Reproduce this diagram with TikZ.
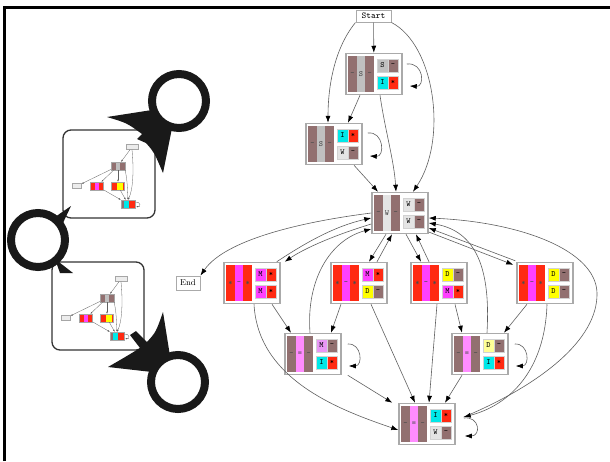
\documentclass[tikz,border=0pt]{standalone}
\usepackage{tikz}
\usetikzlibrary{arrows.meta}

\definecolor{hbrown}{RGB}{146,112,112}
\definecolor{hgrey}{RGB}{192,192,192}
\definecolor{hwhite}{RGB}{228,228,228}
\definecolor{hred}{RGB}{255,42,18}
\definecolor{hmag}{RGB}{255,64,255}
\definecolor{hpink}{RGB}{255,140,255}
\definecolor{hyel}{RGB}{255,255,0}
\definecolor{hlyel}{RGB}{255,255,150}
\definecolor{hcyan}{RGB}{0,232,232}
\definecolor{hlmag}{RGB}{232,150,245}
\definecolor{hedge}{RGB}{95,95,95}
\definecolor{hframe}{RGB}{170,170,170}

\tikzset{
  statebox/.style={draw=hframe, line width=1.5pt, fill=white, minimum width=56pt, minimum height=41pt, inner sep=0pt},
  cellbox/.style={draw=gray!35, line width=0.4pt, minimum width=11pt, minimum height=13pt, inner sep=0pt, font=\fontsize{8}{8}\selectfont\ttfamily},
  stripetext/.style={inner sep=0pt, font=\fontsize{8}{8}\selectfont\ttfamily\bfseries, text=black!70},
  labelbox/.style={draw=hframe, line width=1pt, fill=white, inner sep=1pt},
  edge/.style={draw=hedge, line width=0.6pt, -{Latex[length=7pt,width=5pt,fill=black,color=black]}},
  tbox/.style={draw=gray!70, line width=0.4pt, inner sep=0pt},
  tedge/.style={draw=hedge, line width=0.3pt, -{Latex[length=2pt,width=1.6pt]}},
  pointer/.style={fill=black!90},
  ring/.style={draw=black!90, line width=8pt}
}

% one cell: y, letter, letter colour, right colour, right mark
\newcommand{\hcell}[5]{%
  \node[cellbox, fill=#3] at (8.5,#1) {#2};
  \node[cellbox, minimum width=10pt, fill=#4] at (19,#1) {#5};}
\newcommand{\celS}[1]{\hcell{#1}{S}{hgrey}{hbrown}{-}}
\newcommand{\celW}[1]{\hcell{#1}{W}{hwhite}{hbrown}{-}}
\newcommand{\celI}[1]{\hcell{#1}{I}{hcyan}{hred}{*}}
\newcommand{\celM}[1]{\hcell{#1}{M}{hmag}{hred}{*}}
\newcommand{\celD}[1]{\hcell{#1}{D}{hyel}{hbrown}{-}}
\newcommand{\celLM}[1]{\hcell{#1}{M}{hlmag}{hbrown}{-}}
\newcommand{\celLD}[1]{\hcell{#1}{D}{hlyel}{hbrown}{-}}

% name, position, outer stripe colour, outer mark, middle colour, middle mark, top cell, bottom cell
\newcommand{\hmmstate}[8]{%
  \node[statebox] (#1) at #2 {};
  \begin{scope}[shift={(#1.center)}]
    \fill[#3] (-26,-18) rectangle (-17.3,18);
    \fill[#5] (-17.3,-18) rectangle (-8.7,18);
    \fill[#3] (-8.7,-18) rectangle (0,18);
    \node[stripetext] at (-21.6,0) {#4};
    \node[stripetext] at (-13,0) {#6};
    \node[stripetext] at (-4.3,0) {#4};
    #7{-8.5}
    #8{8.5}
  \end{scope}}

\begin{document}
\begin{tikzpicture}[x=1pt,y=-1pt]
\useasboundingbox (0,0) rectangle (610,461);
% frame
\draw[line width=3pt] (4.5,461) -- (4.5,7) -- (610,7);

% small copies of the graph
\foreach \px/\py/\k in {63/130/a,52/262/b}{
  \begin{scope}[shift={(\px,\py)}]
    \draw[line width=1.3pt, rounded corners=8pt, draw=black!80] (0,0) rectangle (92,88);
    \node[tbox, fill=gray!15, minimum width=12pt, minimum height=5pt] (ts\k) at (69,17) {};
    \node[tbox, fill=hbrown, minimum width=14pt, minimum height=8pt] (tt\k) at (55,36) {};
    \fill[hgrey] (53,32.5) rectangle (57,39.5);
    \node[tbox, fill=gray!15, minimum width=9pt, minimum height=5pt] (te\k) at (14,56) {};
    \node[tbox, fill=hred, minimum width=13pt, minimum height=8pt] (tm\k) at (34,56) {};
    \fill[hmag] (32,52.5) rectangle (36,59.5);
    \node[tbox, fill=hred, minimum width=13pt, minimum height=8pt] (td\k) at (55,56) {};
    \fill[hyel] (54,52.5) rectangle (60,59.5);
    \node[tbox, fill=hbrown, minimum width=14pt, minimum height=8pt] (tb\k) at (65,74) {};
    \fill[hcyan] (61,70.5) rectangle (66,77.5);
    \fill[hred] (66,70.5) rectangle (71.5,77.5);
    \draw[tedge] (ts\k) -- (tt\k);
    \draw[tedge] (ts\k.south) .. controls (71,40) and (70,60) .. (tb\k.north);
    \draw[tedge] (tt\k) -- (te\k);
    \draw[tedge] (tt\k) -- (tm\k);
    \draw[tedge] (tt\k) -- (td\k);
    \draw[tedge] (tt\k.south east) .. controls (64,50) .. (tb\k.north);
    \draw[tedge] (tm\k) -- (tb\k);
    \draw[tedge] (td\k) -- (tb\k);
    \draw[tedge] ([yshift=2pt]tb\k.east) .. controls (78,71) and (78,78) .. ([xshift=1pt,yshift=-2pt]tb\k.east);
  \end{scope}
}

% rings and pointers
\fill[pointer] (107,117) -- (152,110) -- (172,128) -- (163,173) .. controls (154,152) .. (146,143)
  -- (137,139) -- (142,134) .. controls (127,123) .. (107,117) -- cycle;
\draw[ring] (179,101) circle[radius=27];
\fill[pointer] (163,312) -- (170,356) -- (152,372) -- (108,367) .. controls (127,356) .. (140,348)
  -- (130,335) -- (136,331) -- (147,342) .. controls (156,332) .. (163,312) -- cycle;
\draw[ring] (178,382) circle[radius=27];
\fill[pointer] (55,217) -- (71,206) -- (62,225) -- cycle;
\fill[pointer] (55,259) -- (73,273) -- (60,273) -- cycle;
\draw[ring] (38,240) circle[radius=27];

% states
\node[labelbox, minimum width=35pt, minimum height=12pt, font=\fontsize{9}{9}\selectfont\ttfamily] (start) at (373.5,16) {Start};
\node[labelbox, minimum width=24pt, minimum height=14pt, font=\fontsize{8.5}{9}\selectfont] (nend) at (188,283) {End};
\hmmstate{nS}{(374,74)}{hbrown}{-}{hgrey}{S}{\celS}{\celI}
\hmmstate{nSI}{(334,144)}{hbrown}{-}{hgrey}{S}{\celI}{\celW}
\hmmstate{nW}{(400,213)}{hbrown}{-}{hwhite}{W}{\celW}{\celW}
\hmmstate{nMM}{(252,283)}{hred}{*}{hmag}{-}{\celM}{\celM}
\hmmstate{nMD}{(359,283)}{hred}{*}{hmag}{-}{\celM}{\celD}
\hmmstate{nDM}{(439,283)}{hred}{*}{hmag}{-}{\celD}{\celM}
\hmmstate{nDD}{(545,283)}{hred}{*}{hmag}{-}{\celD}{\celD}
\hmmstate{nMI}{(313,354)}{hbrown}{-}{hpink}{=}{\celLM}{\celI}
\hmmstate{nDI}{(480,354)}{hbrown}{-}{hpink}{=}{\celLD}{\celI}
\hmmstate{nIW}{(427,424)}{hbrown}{-}{hpink}{=}{\celI}{\celW}

% transitions
\draw[edge] (start) -- (nS);
\draw[edge] (start.south west) .. controls (333,50) and (328,90) .. ([xshift=-6pt]nSI.north);
\draw[edge] (start.south east) .. controls (435,45) and (448,140) .. ([xshift=13pt]nW.north);
\draw[edge] ([xshift=-14pt]nS.south) -- ([xshift=14pt]nSI.north);
\draw[edge] ([xshift=6pt]nS.south) .. controls (385,130) and (394,160) .. ([xshift=-4pt]nW.north);
\draw[edge] ([xshift=4pt,yshift=10pt]nS.east) .. controls (424,62) and (425,87) .. ([xshift=7pt,yshift=-12pt]nS.east);
\draw[edge] ([xshift=20pt]nSI.south) -- ([xshift=-22pt]nW.north);
\draw[edge] ([xshift=5pt,yshift=11pt]nSI.east) .. controls (384,131) and (385,157) .. ([xshift=7pt,yshift=-12pt]nSI.east);
\draw[edge] (nW.west) .. controls (300,222) and (225,240) .. (nend.north east);
\draw[edge] ([yshift=-11pt]nW.west) .. controls (335,235) and (305,248) .. ([xshift=4pt]nMM.north east);
\draw[edge] ([xshift=-4pt]nMM.north east) .. controls (305,243) and (335,226) .. ([yshift=-5pt]nW.west);
\draw[edge] ([xshift=-14pt]nW.south) -- ([xshift=10pt]nMD.north);
\draw[edge] ([xshift=18pt]nMD.north) -- ([xshift=-8pt]nW.south);
\draw[edge] ([xshift=6pt]nW.south) -- ([xshift=-18pt]nDM.north);
\draw[edge] ([xshift=-10pt]nDM.north) -- ([xshift=16pt]nW.south);
\draw[edge] ([yshift=-19pt]nW.east) -- ([xshift=-3pt,yshift=-3pt]nDD.north west);
\draw[edge] ([xshift=-1pt,yshift=1pt]nDD.north west) -- ([yshift=-15pt]nW.east);
\draw[edge] ([xshift=7pt]nDI.north) .. controls (490,280) and (482,232) .. ([yshift=-10pt]nW.east);
\draw[edge] ([xshift=8pt,yshift=7pt]nIW.east) .. controls (540,385) and (598,340) .. (597,293)
  .. controls (596,250) and (520,222) .. ([yshift=-5pt]nW.east);
\draw[edge] ([xshift=-3pt]nMI.north) .. controls (306,280) and (330,240) .. ([yshift=-16pt]nW.west);
\draw[edge] ([xshift=20pt]nMM.south) -- ([xshift=-22pt]nMI.north);
\draw[edge] ([xshift=2pt]nMM.south) .. controls (258,380) and (340,410) .. ([yshift=-6pt]nIW.west);
\draw[edge] ([xshift=-18pt]nMD.south) -- ([xshift=18pt]nMI.north);
\draw[edge] ([xshift=12pt]nMD.south) -- ([xshift=-12pt]nIW.north);
\draw[edge] ([xshift=-2pt]nDM.south) -- ([xshift=2pt]nIW.north);
\draw[edge] ([xshift=16pt]nDM.south) -- ([xshift=-18pt]nDI.north);
\draw[edge] ([xshift=-18pt]nDD.south) -- ([xshift=24pt]nDI.north);
\draw[edge] ([xshift=2pt]nDD.south) .. controls (545,370) and (510,405) .. ([xshift=8pt,yshift=7pt]nIW.east);
\draw[edge] ([xshift=6pt,yshift=10pt]nMI.east) .. controls (362,343) and (363,366) .. ([xshift=7pt,yshift=-12pt]nMI.east);
\draw[edge] ([xshift=6pt]nMI.south east) -- ([xshift=-6pt]nIW.north west);
\draw[edge] ([xshift=6pt,yshift=10pt]nDI.east) .. controls (529,343) and (530,366) .. ([xshift=7pt,yshift=-12pt]nDI.east);
\draw[edge] ([xshift=-18pt]nDI.south) -- ([xshift=18pt]nIW.north);
\draw[edge] ([xshift=8pt,yshift=6pt]nIW.east) .. controls (480,416) and (481,436) .. ([xshift=9pt,yshift=-12pt]nIW.east);
\end{tikzpicture}
\end{document}
